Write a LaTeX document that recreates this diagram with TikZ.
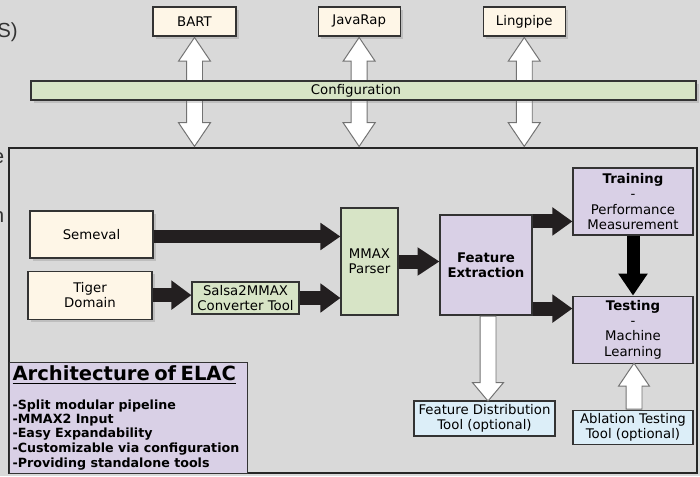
\documentclass[tikz,border=0pt]{standalone}
\usepackage{fontspec}
\setmainfont{DejaVu Sans}
\newfontfamily\slidefont{Liberation Sans}
\usetikzlibrary{arrows.meta,positioning,shapes.arrows,shadows}
\newlength{\pxlen}
\setlength{\pxlen}{0.025cm}
\definecolor{bgGray}{HTML}{D9D9D9}
\definecolor{creamFill}{HTML}{FEF6E7}
\definecolor{greenFill}{HTML}{D7E4C6}
\definecolor{lilacFill}{HTML}{D9D0E6}
\definecolor{blueFill}{HTML}{DCEEF8}
\definecolor{arrowDark}{HTML}{231F20}
\newcommand{\boxfont}{\fontsize{9.45}{10.9}\selectfont}
\newcommand{\titlefont}{\fontsize{13.9}{16}\selectfont\bfseries}
\newcommand{\listfont}{\fontsize{9}{10.2}\selectfont\bfseries}
\tikzset{%
    >={Triangle[width=19.9pt,length=14.2pt]},
    base/.style = {
        rectangle, draw=black!80, line width=0.8pt, inner sep=1pt,
        text centered, font=\boxfont
    },
    shade/.style = {drop shadow={shadow xshift=2.5\pxlen, shadow yshift=-3\pxlen, opacity=.3}},
    source/.style = {base, fill=creamFill, shade},
    convert/.style = {base, fill=greenFill},
    learner/.style = {base, fill=lilacFill},
    optional/.style = {base, fill=blueFill},
    flow/.style = {line width=14\pxlen, draw=arrowDark, ->},
    hollow/.style = {
        single arrow, draw=black!55, fill=white, line width=0.7pt,
        inner xsep=0pt, inner ysep=7.5\pxlen, single arrow head extend=7.5\pxlen
    },
    twoway/.style = {
        double arrow, draw=black!55, fill=white, line width=0.7pt,
        inner xsep=0pt, inner ysep=7.5\pxlen, double arrow head extend=8\pxlen,
        double arrow tip angle=68, minimum height=109\pxlen, rotate=-90
    },
}
\begin{document}
\begin{tikzpicture}[
        x=\pxlen, y=-\pxlen,
        node distance=81\pxlen,
        align=center
    ]
        \useasboundingbox (0,0) rectangle (700,476);
        \clip (0,0) rectangle (700,476);
        \fill[bgGray] (0,0) rectangle (700,476);

        % Slide text cut off at the left edge
        \node (cutS) [anchor=base east, font=\slidefont\fontsize{14.5}{16}\selectfont, text=black!80, inner sep=0pt] at (18,37) {S)};
        \node (cutE) [anchor=base east, font=\slidefont\fontsize{14.5}{16}\selectfont, text=black!80, inner sep=0pt] at (4.5,163) {e};
        \node (cutN) [anchor=base east, font=\slidefont\fontsize{14.5}{16}\selectfont, text=black!80, inner sep=0pt] at (4.5,222) {n};

        % Nodes position
        \node (mainFrame)  [draw=black!85, line width=0.8pt, inner sep=0pt,
                            minimum width=688\pxlen, minimum height=325\pxlen]
                           at (353,310.5) {};

        \node (bart)       [source, minimum width=83\pxlen, minimum height=29\pxlen]
                           at (194.5,21.5) {BART};
        \node (javarap)    [source, minimum width=82\pxlen, minimum height=29\pxlen, right=81\pxlen of bart]
                           {JavaRap};
        \node (lingpipe)   [source, minimum width=82\pxlen, minimum height=29\pxlen, right=82\pxlen of javarap]
                           {Lingpipe};

        \node (bartLink)   [twoway, anchor=west] at (bart.south) {};
        \node (javaLink)   [twoway, anchor=west] at (javarap.south) {};
        \node (pipeLink)   [twoway, anchor=west] at (lingpipe.south) {};

        \node (config)     [source, fill=greenFill, inner sep=0pt,
                            minimum width=665\pxlen, minimum height=19\pxlen]
                           at (363.5,90.5) {Configuration\hspace*{15\pxlen}};

        \node (semeval)    [source, minimum width=123\pxlen, minimum height=47\pxlen]
                           at (91.5,234.5) {Semeval};
        \node (tiger)      [source, minimum width=124\pxlen, minimum height=48\pxlen, below=12\pxlen of semeval, xshift=-1.5\pxlen]
                           {Tiger\\Domain};
        \node (salsa)      [convert, minimum width=107\pxlen, minimum height=32\pxlen]
                           at (245.5,298) {Salsa2MMAX\\Converter Tool};
        \node (mmax)       [convert, minimum width=57\pxlen, minimum height=107\pxlen]
                           at (369.5,261.5) {MMAX\\Parser};
        \node (featext)    [learner, minimum width=92\pxlen, minimum height=100\pxlen]
                           at (486,265) {\textbf{Feature}\\\textbf{Extraction}};
        \node (training)   [learner, minimum width=120\pxlen, minimum height=67\pxlen]
                           at (633,201.5) {\textbf{Training}\\-\\Performance\\Measurement};
        \node (testing)    [learner, minimum width=120\pxlen, minimum height=67\pxlen, below=60\pxlen of training]
                           {\textbf{Testing}\\-\\Machine\\Learning};
        \node (featdist)   [optional, minimum width=141\pxlen, minimum height=35\pxlen]
                           at (484.5,418.5) {Feature Distribution\\Tool (optional)};
        \node (ablation)   [optional, minimum width=120\pxlen, minimum height=34\pxlen, below=46\pxlen of testing]
                           {Ablation Testing\\Tool (optional)};

        \node (elac)       [learner, anchor=north west, minimum width=238\pxlen, minimum height=111\pxlen,
                            text width=232\pxlen, inner xsep=3\pxlen, align=left]
                           at (9,362)
                           {\titlefont\underline{Architecture of ELAC}\par\vspace{10pt}
                            \listfont -Split modular pipeline\\
                            -MMAX2 Input\\
                            -Easy Expandability\\
                            -Customizable via configuration\\
                            -Providing standalone tools};

        % Arrow specification
        \draw[flow, line width=13\pxlen, -{Triangle[width=18.5pt,length=14.2pt]}]
            ([yshift=-2\pxlen]semeval.east) -- ([yshift=-2\pxlen]semeval.east -| mmax.west);
        \draw[flow]  (tiger.east) -- (tiger.east -| salsa.west);
        \draw[flow]  (salsa.east) -- (salsa.east -| mmax.west);
        \draw[flow, -{Triangle[width=19.2pt,length=15.6pt]}] (mmax.east) -- (mmax.east -| featext.west);
        \draw[flow, -{Triangle[width=19.2pt,length=14.2pt]}]
            ([yshift=-7\pxlen]featext.north east) -- ([yshift=-7\pxlen]featext.north east -| training.west);
        \draw[flow, -{Triangle[width=19.2pt,length=14.2pt]}]
            ([yshift=7\pxlen]featext.south east) -- ([yshift=7\pxlen]featext.south east -| testing.west);
        \draw[flow, draw=black, line width=13\pxlen, -{Triangle[width=19.9pt,length=15.6pt]}]
            (training.south) -- (testing.north);

        \node (distLink)   [hollow, single arrow tip angle=80, minimum height=85\pxlen,
                            rotate=-90, anchor=tail] at ([xshift=2\pxlen]featext.south) {};
        \node (ablLink)    [hollow, single arrow tip angle=68, minimum height=46\pxlen,
                            rotate=90, anchor=tail] at ([xshift=1\pxlen]ablation.north) {};
    \end{tikzpicture}
\end{document}
